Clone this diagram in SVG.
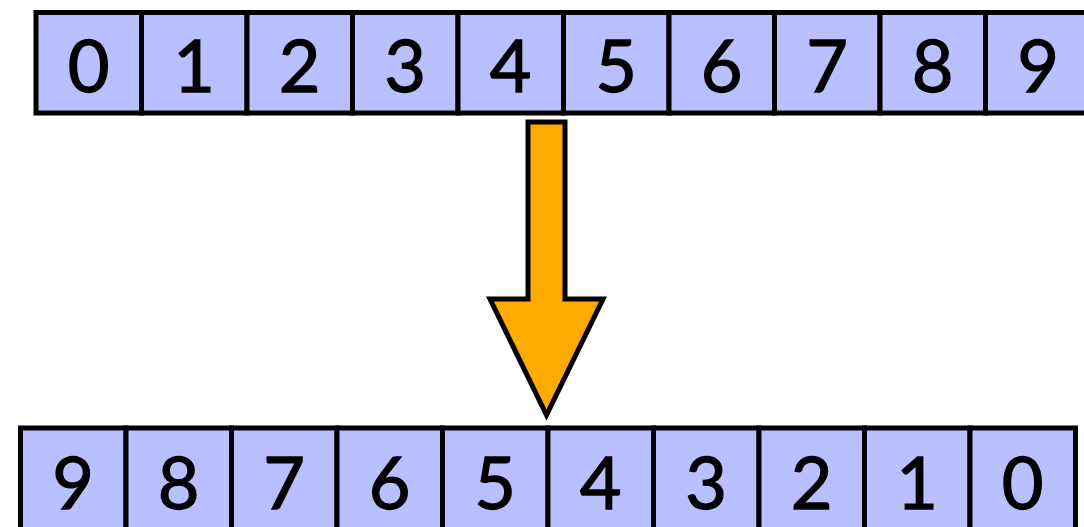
<svg xmlns="http://www.w3.org/2000/svg" width="1084" height="527" viewBox="0 0 1084 527">
<style>
.cell{fill:#B9C0FF;stroke:#000;stroke-width:5}
.num{font-family:Lato,"Open Sans","Liberation Sans",sans-serif;font-size:72px;fill:#000;stroke:#000;stroke-width:1.3;text-anchor:middle}
.arrow{fill:#FFAA00;stroke:#000;stroke-width:5;stroke-linejoin:miter}
</style>
<rect width="1084" height="527" fill="#fff"/>
<g id="top-row">
<g id="t0"><rect class="cell" x="36" y="12.5" width="105.5" height="100.5"/><text class="num" x="88.75" y="92">0</text></g>
<g id="t1"><rect class="cell" x="141.5" y="12.5" width="105.5" height="100.5"/><text class="num" x="194.25" y="92">1</text></g>
<g id="t2"><rect class="cell" x="247" y="12.5" width="105.5" height="100.5"/><text class="num" x="299.75" y="92">2</text></g>
<g id="t3"><rect class="cell" x="352.5" y="12.5" width="105.5" height="100.5"/><text class="num" x="405.25" y="92">3</text></g>
<g id="t4"><rect class="cell" x="458" y="12.5" width="105.5" height="100.5"/><text class="num" x="510.75" y="92">4</text></g>
<g id="t5"><rect class="cell" x="563.5" y="12.5" width="105.5" height="100.5"/><text class="num" x="616.25" y="92">5</text></g>
<g id="t6"><rect class="cell" x="669" y="12.5" width="105.5" height="100.5"/><text class="num" x="721.75" y="92">6</text></g>
<g id="t7"><rect class="cell" x="774.5" y="12.5" width="105.5" height="100.5"/><text class="num" x="827.25" y="92">7</text></g>
<g id="t8"><rect class="cell" x="880" y="12.5" width="105.5" height="100.5"/><text class="num" x="932.75" y="92">8</text></g>
<g id="t9"><rect class="cell" x="985.5" y="12.5" width="105.5" height="100.5"/><text class="num" x="1038.25" y="92">9</text></g>
</g>
<g id="bottom-row">
<g id="b0"><rect class="cell" x="20.5" y="428" width="105.5" height="105"/><text class="num" x="73.25" y="509">9</text></g>
<g id="b1"><rect class="cell" x="126" y="428" width="105.5" height="105"/><text class="num" x="178.75" y="509">8</text></g>
<g id="b2"><rect class="cell" x="231.5" y="428" width="105.5" height="105"/><text class="num" x="284.25" y="509">7</text></g>
<g id="b3"><rect class="cell" x="337" y="428" width="105.5" height="105"/><text class="num" x="389.75" y="509">6</text></g>
<g id="b4"><rect class="cell" x="442.5" y="428" width="105.5" height="105"/><text class="num" x="495.25" y="509">5</text></g>
<g id="b5"><rect class="cell" x="548" y="428" width="105.5" height="105"/><text class="num" x="600.75" y="509">4</text></g>
<g id="b6"><rect class="cell" x="653.5" y="428" width="105.5" height="105"/><text class="num" x="706.25" y="509">3</text></g>
<g id="b7"><rect class="cell" x="759" y="428" width="105.5" height="105"/><text class="num" x="811.75" y="509">2</text></g>
<g id="b8"><rect class="cell" x="864.5" y="428" width="105.5" height="105"/><text class="num" x="917.25" y="509">1</text></g>
<g id="b9"><rect class="cell" x="970" y="428" width="105.5" height="105"/><text class="num" x="1022.75" y="509">0</text></g>
</g>
<g id="connectors">
<polygon class="arrow" points="528,122 565,122 565,299 603,299 546.5,415 490,299 528,299"/>
</g>
</svg>
